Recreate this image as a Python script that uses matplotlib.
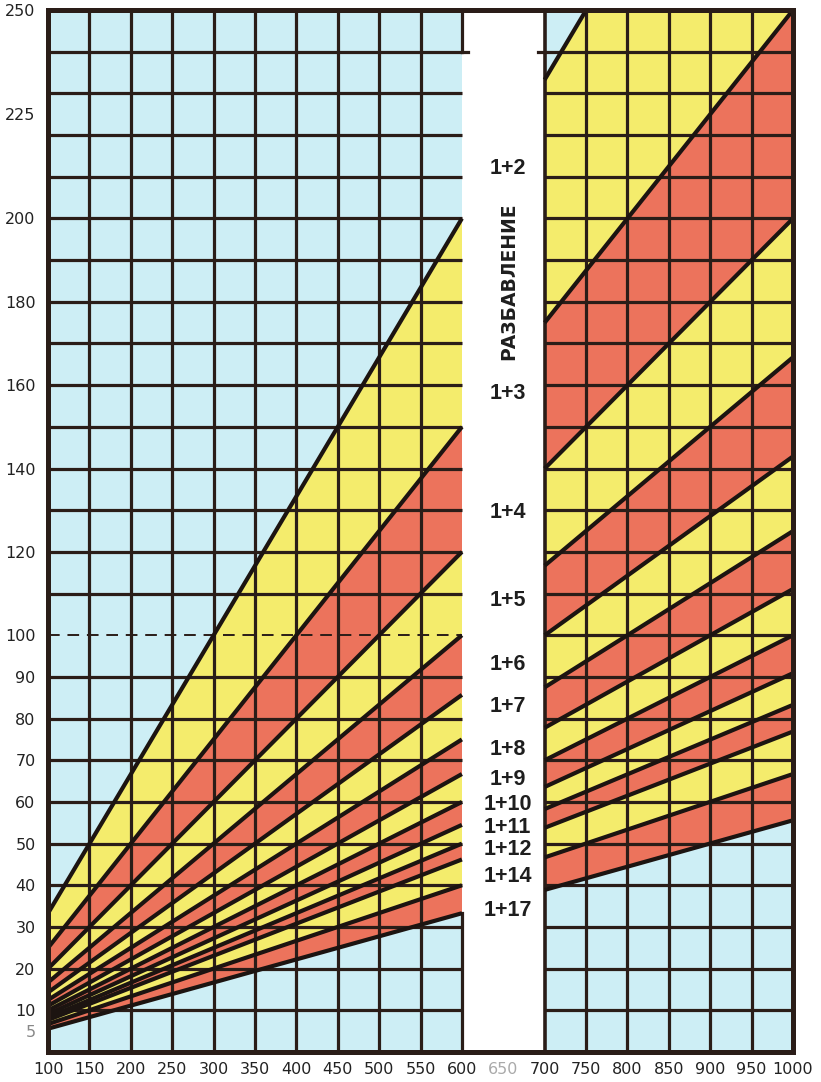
import numpy as np
import matplotlib.pyplot as plt

# dilution ratios (1+n) and the value of each line read at the panel edges
ratios = ["1+2", "1+3", "1+4", "1+5", "1+6", "1+7", "1+8", "1+9",
          "1+10", "1+11", "1+12", "1+14", "1+17"]
at_100 = [33.3, 25.0, 20.0, 16.7, 14.3, 12.5, 11.1, 10.0, 9.1, 8.3, 7.7, 6.7, 5.6]
at_600 = [200.0, 150.0, 120.0, 100.0, 85.7, 75.0, 66.7, 60.0, 54.5, 50.0, 46.2, 40.0, 33.3]
at_700 = [233.3, 175.0, 140.0, 116.7, 100.0, 87.5, 77.8, 70.0, 63.6, 58.3, 53.8, 46.7, 38.9]
at_1000 = [333.3, 250.0, 200.0, 166.7, 142.9, 125.0, 111.1, 100.0, 90.9, 83.3, 76.9, 66.7, 55.6]

# where the ratio labels sit in the white column
label_y = [212, 158, 129.5, 108.4, 93, 83, 72.7, 65.3, 59.3, 53.8, 48.5, 42.2, 34]

x_ticks = [100, 150, 200, 250, 300, 350, 400, 450, 500, 550, 600, 650, 700,
           750, 800, 850, 900, 950, 1000]
y_ticks = [5, 10, 20, 30, 40, 50, 60, 70, 80, 90, 100, 120, 140, 160, 180, 200, 225, 250]

BLUE = '#cdeef5'
YELLOW = '#f4ec6c'
RED = '#ec735c'
INK = '#2a1d18'

fig = plt.figure(figsize=(8.21, 10.82), dpi=100)
ax = fig.add_axes([0.0585, 0.0277, 0.9074, 0.963])
ax.set_facecolor(BLUE)
ax.set_xlim(100, 1000)
ax.set_ylim(0, 250)

# coloured bands between neighbouring lines, yellow/red alternating
for i in range(len(ratios) - 1):
    col = YELLOW if i % 2 == 0 else RED
    ax.fill_between([100, 600], [at_100[i], at_600[i]], [at_100[i + 1], at_600[i + 1]],
                    color=col, lw=0, zorder=1)
    ax.fill_between([700, 1000], [at_700[i], at_1000[i]], [at_700[i + 1], at_1000[i + 1]],
                    color=col, lw=0, zorder=1)

# white column between 600 and 700
ax.axvspan(600, 700, color='white', lw=0, zorder=2)

# grid, every 10 up and every 50 across
for y in range(10, 250, 10):
    ax.plot([700, 1000], [y, y], color=INK, lw=2.3, zorder=3, solid_capstyle='butt')
    if y == 100:
        ax.plot([100, 600], [y, y], color=INK, lw=1.4, ls=(0, (6, 4)), zorder=3)
    else:
        ax.plot([100, 600], [y, y], color=INK, lw=2.3, zorder=3, solid_capstyle='butt')
for x in [150, 200, 250, 300, 350, 400, 450, 500, 550, 750, 800, 850, 900, 950]:
    ax.plot([x, x], [0, 250], color=INK, lw=2.3, zorder=3)
ax.plot([700, 700], [0, 250], color=INK, lw=2.6, zorder=3)
ax.plot([600, 600], [0, 33.3], color=INK, lw=2.3, zorder=3)
ax.plot([600, 600], [240, 250], color=INK, lw=2.3, zorder=3)
ax.plot([600, 607], [240, 240], color=INK, lw=2.3, zorder=3)
ax.plot([692, 700], [240, 240], color=INK, lw=2.3, zorder=3)

# the dilution lines
for i in range(len(ratios)):
    ax.plot([100, 600], [at_100[i], at_600[i]], color='#1c1411', lw=3.0, zorder=4,
            solid_capstyle='butt')
    ax.plot([700, 1000], [at_700[i], at_1000[i]], color='#1c1411', lw=3.0, zorder=4,
            solid_capstyle='butt')

# labels in the white column
for name, y in zip(ratios, label_y):
    ax.text(655, y, name, ha='center', va='center', fontsize=15.5, fontweight='bold',
            family='Liberation Sans', color='#1e1e1e', zorder=5)
ax.text(657, 185, 'РАЗБАВЛЕНИЕ', rotation=90, ha='center', va='center', fontsize=13.5,
        fontweight='bold', family='DejaVu Sans', color='#1e1e1e', zorder=5)

# axes border and tick labels
for s in ax.spines.values():
    s.set_linewidth(3.6)
    s.set_color(INK)
    s.set_zorder(6)
ax.set_xticks(x_ticks)
ax.set_yticks(y_ticks)
ax.tick_params(length=0, labelsize=11.5, colors='#222222', pad=7)
ax.tick_params(axis='y', pad=9)
for lab in ax.get_xticklabels():
    if lab.get_text() == '650':
        lab.set_color('#aaaaaa')
ax.get_yticklabels()[0].set_color('#888888')

fig.savefig('out.png', dpi=100)
